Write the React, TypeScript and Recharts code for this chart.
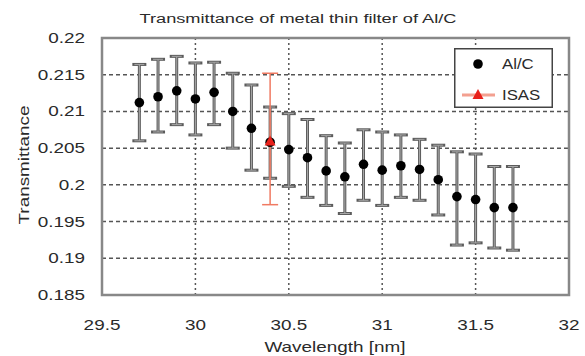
import React from 'react';
import {
  ScatterChart,
  Scatter,
  XAxis,
  YAxis,
  CartesianGrid,
  ErrorBar,
  ReferenceArea,
} from 'recharts';

const wavelengths = [
  29.7, 29.8, 29.9, 30.0, 30.1, 30.2, 30.3, 30.4, 30.5, 30.6, 30.7,
  30.8, 30.9, 31.0, 31.1, 31.2, 31.3, 31.4, 31.5, 31.6, 31.7,
];
const alcValues = [
  0.2112, 0.212, 0.2128, 0.2117, 0.2126, 0.21, 0.2077, 0.2058, 0.2048, 0.2037, 0.2019,
  0.2011, 0.2028, 0.202, 0.2026, 0.2021, 0.2007, 0.1984, 0.198, 0.1969, 0.1969,
];
const alcUpper = [
  0.2164, 0.2171, 0.2175, 0.2166, 0.2167, 0.2152, 0.2136, 0.2106, 0.2097, 0.2089, 0.2067,
  0.2057, 0.2075, 0.2072, 0.2068, 0.2062, 0.2054, 0.2045, 0.2042, 0.2025, 0.2025,
];
const alcLower = [
  0.206, 0.2072, 0.2082, 0.2068, 0.2082, 0.205, 0.202, 0.2009, 0.1998, 0.1983, 0.1972,
  0.1961, 0.1979, 0.1972, 0.1983, 0.1979, 0.1959, 0.1918, 0.1921, 0.1914, 0.1911,
];

// ISAS single point
const isasWavelengths = [30.4];
const isasValues = [0.2059];
const isasUpper = [0.2152];
const isasLower = [0.1973];

const xTicks = [29.5, 30, 30.5, 31, 31.5, 32];
const yTicks = [0.185, 0.19, 0.195, 0.2, 0.205, 0.21, 0.215, 0.22];

const alcData = wavelengths.map((x, i) => ({
  x,
  y: alcValues[i],
  err: [alcValues[i] - alcLower[i], alcUpper[i] - alcValues[i]],
}));

const isasData = isasWavelengths.map((x, i) => ({
  x,
  y: isasValues[i],
  err: [isasValues[i] - isasLower[i], isasUpper[i] - isasValues[i]],
}));

const FONT = '"Liberation Sans", Arial, sans-serif';
const TEXT = '#2a2a2a';
const STRETCH = 1.35; // the original lettering is drawn wide

const Dot = (props: any) => {
  const { cx, cy } = props;
  if (cx == null || cy == null) return null;
  return <circle cx={cx} cy={cy} r={4.8} fill="#000" />;
};

const Tri = (props: any) => {
  const { cx, cy } = props;
  if (cx == null || cy == null) return null;
  return (
    <polygon
      points={`${cx},${cy - 6} ${cx - 5.5},${cy + 4} ${cx + 5.5},${cy + 4}`}
      fill="#e8201a"
    />
  );
};

const WideText = ({ x, y, anchor, dy, children, size = 14, sx = STRETCH }: any) => (
  <text
    transform={`translate(${x},${y}) scale(${sx},1)`}
    textAnchor={anchor}
    dy={dy}
    fontSize={size}
    fontFamily={FONT}
    fill={TEXT}
  >
    {children}
  </text>
);

const XTick = (props: any) => {
  const { x, y, payload } = props;
  return <WideText x={x} y={y} anchor="middle" dy="0.71em">{payload.value}</WideText>;
};

const YTick = (props: any) => {
  const { x, y, payload } = props;
  return <WideText x={x} y={y} anchor="end" dy="0.36em">{payload.value}</WideText>;
};

export default function App() {
  return (
    <div style={{ position: 'absolute', left: 0, top: 0, width: 585, height: 356, background: '#fff' }}>
      <ScatterChart width={585} height={356} margin={{ top: 38, right: 16, bottom: 0, left: 0 }}>
        <CartesianGrid horizontal={false} stroke="#555" strokeDasharray="2 3" strokeWidth={1.5} />
        <CartesianGrid vertical={false} stroke="#555" strokeDasharray="4 3" strokeWidth={1.5} />
        <XAxis
          type="number"
          dataKey="x"
          domain={[29.5, 32]}
          ticks={xTicks}
          allowDataOverflow
          height={61}
          tickLine={false}
          tickMargin={19}
          axisLine={false}
          tick={<XTick />}
        />
        <YAxis
          type="number"
          dataKey="y"
          domain={[0.185, 0.22]}
          ticks={yTicks}
          allowDataOverflow
          width={102}
          tickLine={false}
          tickMargin={11}
          axisLine={false}
          tick={<YTick />}
        />
        <ReferenceArea x1={29.5} x2={32} y1={0.185} y2={0.22} fill="none" stroke="#888" strokeWidth={2.5} />
        <Scatter data={alcData} shape={<Dot />} isAnimationActive={false}>
          <ErrorBar dataKey="err" direction="y" width={7} stroke="#5c5c5c" strokeWidth={3} />
          <ErrorBar dataKey="err" direction="y" width={5} stroke="#a8a8a8" strokeWidth={1} />
        </Scatter>
        <Scatter data={isasData} shape={<Tri />} isAnimationActive={false}>
          <ErrorBar dataKey="err" direction="y" width={8} stroke="#f07a62" strokeWidth={1.5} />
        </Scatter>
      </ScatterChart>
      <svg width={585} height={356} style={{ position: 'absolute', left: 0, top: 0, pointerEvents: 'none' }}>
        <WideText x={298} y={18} anchor="middle" dy="0.36em" size={13.5}>
          Transmittance of metal thin filter of Al/C
        </WideText>
        <WideText x={335} y={347} anchor="middle" dy="0.36em">
          Wavelength [nm]
        </WideText>
        <text
          transform={`translate(24,165) rotate(-90) scale(${STRETCH},1)`}
          textAnchor="middle"
          dy="0.36em"
          fontSize={14}
          fontFamily={FONT}
          fill={TEXT}
        >
          Transmittance
        </text>
        <g transform="translate(454,48)">
          <rect x={0.75} y={0.75} width={97.5} height={58.5} fill="#fff" stroke="#444" strokeWidth={1.5} />
          <circle cx={24} cy={16} r={4.8} fill="#000" />
          <WideText x={48} y={16} anchor="start" dy="0.36em" sx={1.2}>Al/C</WideText>
          <line x1={8} y1={47} x2={41} y2={47} stroke="#f3a090" strokeWidth={3} />
          <polygon points="24,41 18.5,51 29.5,51" fill="#e8201a" />
          <WideText x={48} y={47} anchor="start" dy="0.36em" sx={1.2}>ISAS</WideText>
        </g>
      </svg>
    </div>
  );
}
